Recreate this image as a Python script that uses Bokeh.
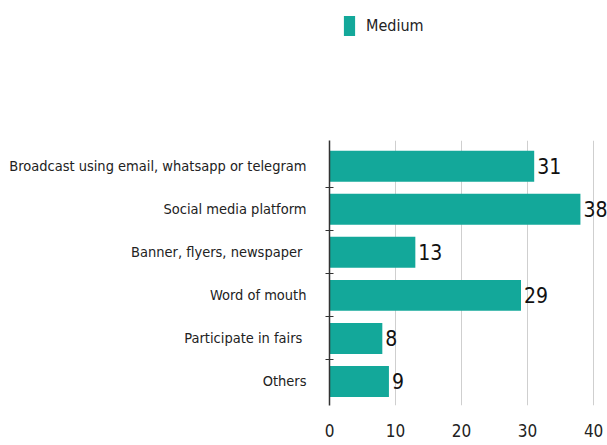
from bokeh.plotting import figure
from bokeh.models import ColumnDataSource, FixedTicker, Legend, LegendItem, Range1d
from bokeh.layouts import column
from bokeh.core.properties import value
from bokeh.embed import file_html
from bokeh.resources import INLINE

categories = ["Broadcast using email, whatsapp or telegram", "Social media platform",
              "Banner, flyers,  newspaper", "Word of mouth", "Participate in  fairs", "Others"]
counts = [31, 38, 13, 29, 8, 9]
x_ticks = [0, 10, 20, 30, 40]
series_name = "Medium"

FONT = '"DejaVu Sans Condensed", "Liberation Sans Narrow", sans-serif'
COLOR = "#13a89a"
W, H = 607, 445
LEG_H = 50

n = len(categories)
ypos = [n - 1 - i for i in range(n)]
src = ColumnDataSource(dict(y=ypos, v=counts, lbl=[str(c) for c in counts], cat=categories))

# legend strip on top (its bars lie outside the strip's visible range; only the legend shows)
pl = figure(width=W, height=LEG_H, output_backend="svg", toolbar_location=None,
            x_axis_location=None, y_axis_location=None,
            x_range=Range1d(-2, -1), y_range=Range1d(-2, -1),
            min_border_left=329, min_border_right=0, min_border_top=0, min_border_bottom=0)
pl.outline_line_color = None
pl.grid.visible = False
rl = pl.hbar(y="y", right="v", left=0, height=0.72, source=src, color=COLOR, line_color=None)
legend = Legend(items=[LegendItem(label=series_name, renderers=[rl])],
                location="top_left", orientation="horizontal",
                glyph_width=14, glyph_height=25, label_height=25, label_standoff=10,
                padding=0, margin=13, border_line_color=None, background_fill_alpha=0,
                label_text_font=FONT, label_text_font_size="16px", label_text_color="#222222")
pl.add_layout(legend, "center")

# main chart
p = figure(width=W, height=H - LEG_H, output_backend="svg", toolbar_location=None,
           x_range=Range1d(0, 42.1), y_range=Range1d(-0.56, n - 1 + 0.6),
           min_border_left=327, min_border_right=0, min_border_top=140 - LEG_H,
           min_border_bottom=40)
p.outline_line_color = None

p.hbar(y="y", right="v", left=0, height=0.72, source=src, color=COLOR, line_color=None)
p.text(x="v", y="y", text="lbl", source=src, x_offset=3, text_baseline="middle",
       text_align="left", text_font=value(FONT), text_font_size="21px", text_color="#111111")

# y axis
yax = p.yaxis[0]
yax.ticker = FixedTicker(ticks=ypos, minor_ticks=[i + 0.5 for i in range(n - 1)])
yax.major_label_overrides = {y: c for y, c in zip(ypos, categories)}
yax.major_tick_out = 0
yax.major_tick_in = 0
yax.minor_tick_out = 4
yax.minor_tick_in = 4
yax.minor_tick_line_color = "#333333"
yax.axis_line_color = "#333333"
yax.axis_line_width = 1.5
yax.major_label_standoff = 19
yax.major_label_text_font = FONT
yax.major_label_text_font_size = "14.5px"
yax.major_label_text_color = "#222222"

# x axis
xax = p.xaxis[0]
xax.ticker = FixedTicker(ticks=x_ticks)
xax.axis_line_color = None
xax.major_tick_out = 0
xax.major_tick_in = 0
xax.minor_tick_line_color = None
xax.major_label_standoff = 18
xax.major_label_text_font = FONT
xax.major_label_text_font_size = "17px"
xax.major_label_text_color = "#222222"

p.xgrid.grid_line_color = "#cfcfcf"
p.xgrid.ticker = FixedTicker(ticks=x_ticks[1:])
p.ygrid.grid_line_color = None

open("out.html", "w").write(file_html(column(pl, p), INLINE))
